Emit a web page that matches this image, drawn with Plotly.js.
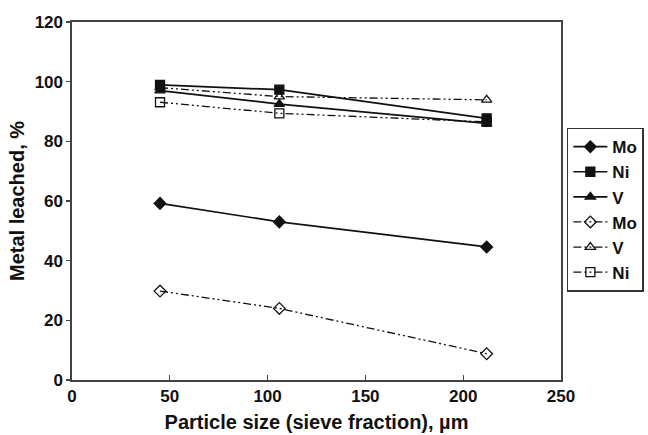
<!DOCTYPE html>
<html>
<head>
<meta charset="utf-8">
<script src="https://cdn.plot.ly/plotly-3.0.1.min.js"></script>
<style>html,body{margin:0;padding:0;background:#fff;}#chart{width:648px;height:435px;}</style>
</head>
<body>
<div id="chart"></div>
<script>
const particleSize = [45, 106, 212];
const moSolid = [59.2, 53.0, 44.6];
const niSolid = [98.9, 97.3, 87.7];
const vSolid = [97.0, 92.5, 86.0];
const moOpen = [29.8, 24.0, 8.8];
const vOpen = [98.0, 95.0, 93.9];
const niOpen = [93.1, 89.4, 86.5];
const seriesNames = ["Mo", "Ni", "V", "Mo", "V", "Ni"];
const xTicks = [0, 50, 100, 150, 200, 250];
const yTicks = [0, 20, 40, 60, 80, 100, 120];

const dashDot = "8px,3px,2px,3px,2px,3px";
const fam = "Liberation Sans, Arial, sans-serif";

function tr(y, name, symbol, dash) {
  return {
    x: particleSize, y: y, name: name, type: "scatter", mode: "lines+markers",
    line: {color: "#111", width: dash ? 1.3 : 1.7, dash: dash || "solid"},
    marker: {symbol: symbol, size: 9, color: "#111",
             line: {color: "#111", width: 1.3}}
  };
}

const data = [
  tr(moSolid, seriesNames[0], "diamond", null),
  tr(niSolid, seriesNames[1], "square", null),
  tr(vSolid, seriesNames[2], "triangle-up", null),
  tr(moOpen, seriesNames[3], "diamond-open", dashDot),
  tr(vOpen, seriesNames[4], "triangle-up-open", dashDot),
  tr(niOpen, seriesNames[5], "square-open", dashDot)
];

const layout = {
  width: 648, height: 435,
  margin: {l: 72, r: 87, t: 22, b: 55, autoexpand: false},
  paper_bgcolor: "#fff", plot_bgcolor: "#fff",
  font: {family: fam, color: "#111", weight: 700},
  showlegend: true,
  legend: {x: 1.012, y: 0.705, xanchor: "left", yanchor: "top",
           bordercolor: "#333", borderwidth: 1.5, bgcolor: "#fff",
           font: {family: fam, size: 17, color: "#111", weight: 700},
           traceorder: "normal", itemwidth: 34},
  xaxis: {
    range: [0, 250], tickvals: xTicks, ticktext: xTicks.map(String),
    ticks: "inside", ticklen: 5, tickcolor: "#444", tickwidth: 1.3,
    showline: true, linecolor: "#444", linewidth: 1.6, mirror: true,
    showgrid: false, zeroline: false,
    tickfont: {family: fam, size: 17, color: "#111", weight: 700},
    title: {text: "Particle size (sieve fraction), µm", standoff: 10,
            font: {family: fam, size: 20, color: "#111", weight: 700}}
  },
  yaxis: {
    range: [0, 120], tickvals: yTicks, ticktext: yTicks.map(String),
    ticks: "outside", ticklen: 4, tickcolor: "#444", tickwidth: 1.3,
    showline: true, linecolor: "#444", linewidth: 1.6, mirror: true,
    showgrid: false, zeroline: false,
    tickfont: {family: fam, size: 17, color: "#111", weight: 700},
    title: {text: "Metal leached, %", standoff: 4,
            font: {family: fam, size: 20, color: "#111", weight: 700}}
  }
};

Plotly.newPlot("chart", data, layout, {displayModeBar: false, staticPlot: true});
</script>
</body>
</html>
